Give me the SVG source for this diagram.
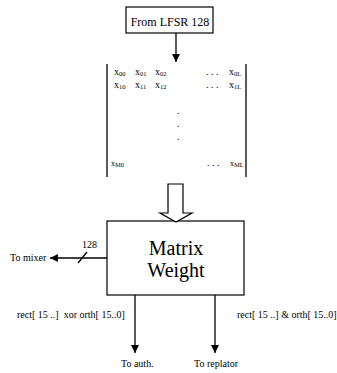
<svg xmlns="http://www.w3.org/2000/svg" width="337" height="373" viewBox="0 0 337 373" font-family="'Liberation Serif', 'Times New Roman', serif">
<style>
text{font-family:"Liberation Serif","Times New Roman",serif;fill:#000}
.s{font-size:10px}
.m{font-size:10px}
.sub{font-size:6.5px}
.ln{stroke:#000;stroke-width:1.3;fill:none}
.box{fill:#fff;stroke:#000;stroke-width:1.2}
</style>
<defs>
<marker id="ah" viewBox="0 0 10 10" refX="10" refY="5" markerWidth="8" markerHeight="8" markerUnits="userSpaceOnUse" orient="auto">
<path d="M0,0 L10,5 L0,10 z" fill="#000"/>
</marker>
</defs>
<g id="lfsr">
<rect class="box" x="126" y="7" width="87" height="26"/>
<text x="170" y="26" font-size="12" text-anchor="middle">From LFSR 128</text>
</g>
<g id="matrix">
<line class="ln" x1="107" y1="64" x2="107" y2="177"/>
<line class="ln" x1="246" y1="64" x2="246" y2="177"/>
<text class="m" x="114" y="75">x<tspan class="sub" dy="1">00</tspan></text>
<text class="m" x="135" y="75">x<tspan class="sub" dy="1">01</tspan></text>
<text class="m" x="155" y="75">x<tspan class="sub" dy="1">02</tspan></text>
<text class="m" x="206" y="75">. . .</text>
<text class="m" x="229" y="75">x<tspan class="sub" dy="1">0L</tspan></text>
<text class="m" x="114" y="88">x<tspan class="sub" dy="1">10</tspan></text>
<text class="m" x="135" y="88">x<tspan class="sub" dy="1">11</tspan></text>
<text class="m" x="155" y="88">x<tspan class="sub" dy="1">12</tspan></text>
<text class="m" x="206" y="88">. . .</text>
<text class="m" x="229" y="88">x<tspan class="sub" dy="1">1L</tspan></text>
<text class="m" x="177" y="114">.</text>
<text class="m" x="177" y="127">.</text>
<text class="m" x="177" y="140">.</text>
<text x="111" y="166" font-size="8">x<tspan class="sub" dy="1">M0</tspan></text>
<text class="m" x="207" y="166">. . .</text>
<text x="230" y="166" font-size="8">x<tspan class="sub" dy="1">ML</tspan></text>
</g>
<g id="matrix-weight">
<rect class="box" x="107" y="221" width="137" height="74"/>
<text x="176" y="255" font-size="20" text-anchor="middle">Matrix</text>
<text x="176" y="277" font-size="20" text-anchor="middle">Weight</text>
</g>
<g id="labels">
<text class="s" x="10" y="261">To mixer</text>
<text class="s" x="82" y="248">128</text>
<text class="s" x="17" y="318" xml:space="preserve">rect[ 15 ..]  xor orth[ 15..0]</text>
<text class="s" x="237" y="318">rect[ 15 ..] &amp; orth[ 15..0]</text>
<text class="s" x="121" y="367">To auth.</text>
<text class="s" x="194" y="367">To replator</text>
</g>
<g id="connectors">
<line class="ln" x1="176" y1="33" x2="176" y2="62" marker-end="url(#ah)"/>
<path d="M168,184 L183,184 L183,213 L192,213 L176,222 L160,213 L168,213 Z" fill="#fff" stroke="#000" stroke-width="1.2"/>
<line class="ln" x1="107" y1="258" x2="50" y2="258" marker-end="url(#ah)"/>
<line class="ln" x1="78" y1="263" x2="87" y2="252"/>
<line class="ln" x1="135" y1="295" x2="135" y2="353" marker-end="url(#ah)"/>
<line class="ln" x1="215" y1="295" x2="215" y2="353" marker-end="url(#ah)"/>
</g>
</svg>
